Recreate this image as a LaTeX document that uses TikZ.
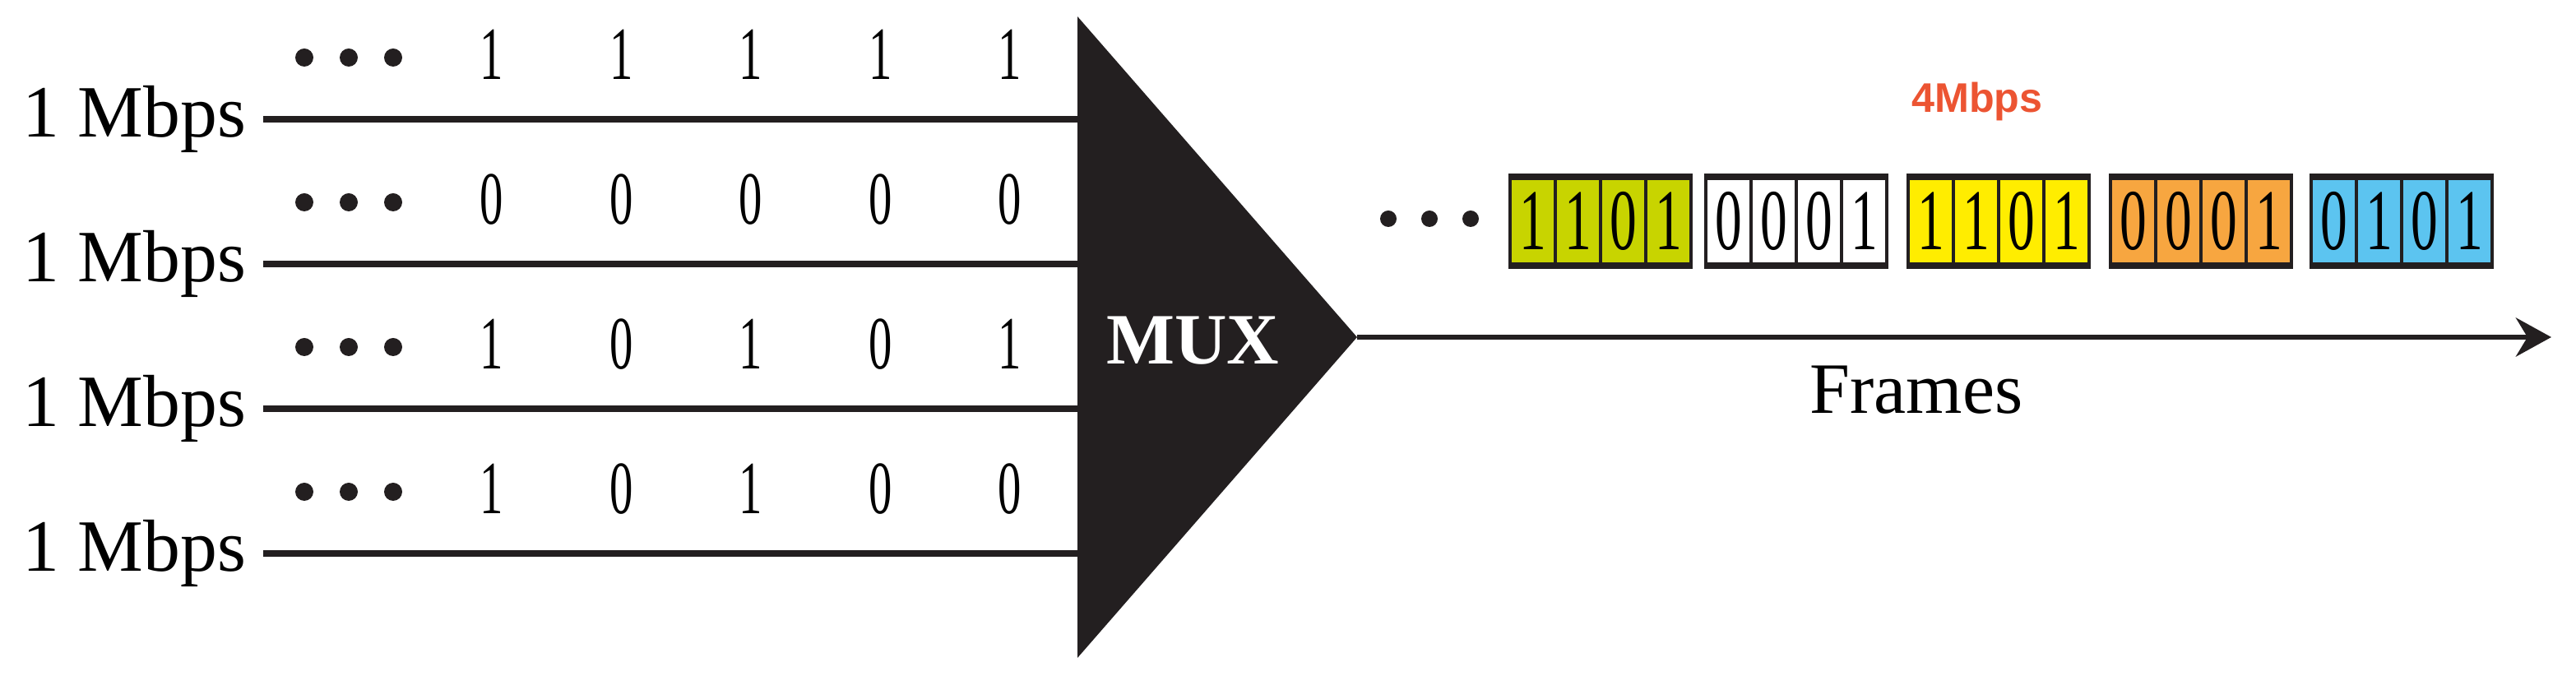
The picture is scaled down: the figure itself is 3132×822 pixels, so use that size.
\documentclass[tikz,border=0pt]{standalone}
\usepackage{fontspec}
\setmainfont{Liberation Serif}
\newfontfamily\bitfont[FakeStretch=0.62]{Liberation Serif}
\newfontfamily\ratefont{Liberation Sans}
\usetikzlibrary{arrows.meta}

\definecolor{muxblack}{RGB}{35,31,32}
\definecolor{frameA}{RGB}{200,212,0}
\definecolor{frameC}{RGB}{255,237,0}
\definecolor{frameD}{RGB}{247,166,64}
\definecolor{frameE}{RGB}{92,196,240}
\definecolor{ratered}{RGB}{236,84,50}

\begin{document}
\begin{tikzpicture}[x=0.01cm, y=-0.01cm,
    label/.style={font=\fontsize{25.5}{28}\selectfont, inner ysep=0pt, inner xsep=0.2cm},
    bit/.style={font=\bitfont\fontsize{26}{30}\selectfont, anchor=base, inner sep=0pt},
    cell/.style={draw=muxblack, line width=1pt, minimum width=0.55cm, minimum height=1.05cm,
                 inner sep=0pt, font=\bitfont\fontsize{30}{32}\selectfont},
    wire/.style={line width=2pt, muxblack}]

  \useasboundingbox (0,0) rectangle (3132,822);

  %% MUX triangle
  \coordinate (mtop) at (1310,20);
  \coordinate (mbot) at (1310,800);
  \coordinate (mtip) at (1650,410);
  \fill[muxblack] (mtop) -- (mtip) -- (mbot) -- cycle;
  \node[white, font=\bfseries\fontsize{25}{28}\selectfont] (mux) at (1450,414) {MUX};

  %% Input channels
  \foreach \r/\bits in {0/{1,1,1,1,1}, 1/{0,0,0,0,0}, 2/{1,0,1,0,1}, 3/{1,0,1,0,0}} {
    \node[label, anchor=east] (line\r) at (320,145+176*\r) {1 Mbps};
    \coordinate (in\r) at (1310,145+176*\r);
    \draw[wire] (line\r.east) -- (in\r);
    \foreach \d in {0,1,2}
      \fill[muxblack] (370+54*\d,70+176*\r) circle (11);
    \foreach \b [count=\i from 0] in \bits
      \node[bit] (bit\r-\i) at (598+157.5*\i,97+176*\r) {\b};
  }

  %% Output link
  \coordinate (out) at (3102,410);
  \draw[line width=1.9pt, muxblack, -{Stealth[length=0.43cm, width=0.47cm]}] (mtip) -- (out);
  \node[font=\fontsize{25}{28}\selectfont] (frames) at (2330,474) {Frames};
  \node[ratered, font=\ratefont\bfseries\fontsize{14.3}{16}\selectfont] (rate) at (2404,124) {4Mbps};

  %% Frames
  \foreach \d in {0,1,2}
    \fill[muxblack] (1688+50*\d,266) circle (10);
  \foreach \f/\fx/\col/\bits in {0/1836/frameA/{1,1,0,1}, 1/2074/white/{0,0,0,1},
      2/2320/frameC/{1,1,0,1}, 3/2566/frameD/{0,0,0,1}, 4/2810/frameE/{0,1,0,1}} {
    \foreach \b [count=\i] in \bits
      \node[cell, fill=\col] (f\f-\i) at (\fx+55*\i-27.5,269) {\b};
    \draw[line width=2.2pt, muxblack] (f\f-1.north west) -- (f\f-4.north east);
    \draw[line width=2.2pt, muxblack] (f\f-1.south west) -- (f\f-4.south east);
  }

\end{tikzpicture}
\end{document}
